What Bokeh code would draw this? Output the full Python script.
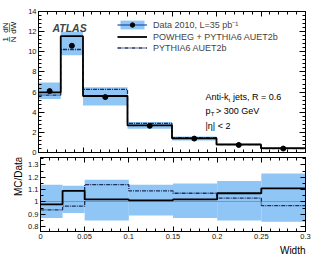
import numpy as np
from bokeh.plotting import figure
from bokeh.layouts import column, row
from bokeh.models import (Range1d, LinearAxis, SingleIntervalTicker, FixedTicker,
                          CustomJSTickFormatter, Label, Legend, LegendItem, Title)
from bokeh.embed import file_html
from bokeh.resources import INLINE

# ---- data ----
edges = [0.0, 0.025, 0.05, 0.1, 0.15, 0.2, 0.25, 0.3]
data = [6.1, 10.6, 5.5, 2.65, 1.38, 0.75, 0.39]
band_lo = [0.87, 0.91, 0.85, 0.89, 0.87, 0.85, 0.84]
band_hi = [1.14, 1.13, 1.18, 1.14, 1.15, 1.17, 1.23]
powheg_ratio = [0.98, 1.09, 1.02, 1.013, 1.02, 1.07, 1.11]
pythia_ratio = [0.935, 0.965, 1.14, 1.09, 1.07, 1.03, 0.97]
x_ticks = [0.0, 0.05, 0.1, 0.15, 0.2, 0.25, 0.3]

FONT = "Liberation Sans"
BAND = "#8fc6f6"
DATA_LINE = "#1f4fa8"
PY_COLOR = "#1e2f5e"
ONE_COLOR = "#5fa89a"

lo = np.array(edges[:-1])
hi = np.array(edges[1:])
centers = (lo + hi) / 2
d = np.array(data)
powheg = d * np.array(powheg_ratio)
pythia = d * np.array(pythia_ratio)


def ext(v):
    v = list(v)
    return v + [v[-1]]


fmt = CustomJSTickFormatter(code="return Number(tick.toFixed(3)).toString();")
blank = CustomJSTickFormatter(code="return '';")
x_minor = [round(v, 3) for v in np.arange(0, 0.3001, 0.01)]


def x_ticker():
    return FixedTicker(ticks=x_ticks, minor_ticks=x_minor)


def style_axis(ax, labels=True, major=5, minor=3):
    ax.major_tick_in = major
    ax.major_tick_out = 0
    ax.minor_tick_in = minor
    ax.minor_tick_out = 0
    ax.axis_line_color = "black"
    ax.major_tick_line_color = "black"
    ax.minor_tick_line_color = "black"
    ax.major_label_text_font = FONT
    ax.major_label_text_color = "#111111"
    if labels:
        ax.formatter = fmt
        ax.major_label_text_font_size = "7.5px"
        ax.major_label_standoff = 2
    else:
        ax.formatter = blank
        ax.major_label_text_font_size = "1px"
        ax.major_label_standoff = 0


def side_fig(w, h):
    f = figure(width=w, height=h, x_range=Range1d(0, w), y_range=Range1d(0, h),
               output_backend="svg", toolbar_location=None,
               min_border_left=0, min_border_right=0, min_border_top=0, min_border_bottom=0)
    f.axis.visible = False
    f.grid.visible = False
    f.outline_line_color = None
    return f


x_range = Range1d(0, 0.3)

# ---------------- top panel ----------------
p1 = figure(width=298, height=157, x_range=x_range, y_range=Range1d(0, 14),
            output_backend="svg", toolbar_location=None,
            min_border_left=21, min_border_right=10, min_border_top=11, min_border_bottom=5)
p1.grid.visible = False
p1.outline_line_color = "black"

yt1 = SingleIntervalTicker(interval=2, num_minor_ticks=5)
p1.xaxis.ticker = x_ticker()
p1.yaxis.ticker = yt1
style_axis(p1.xaxis[0], labels=False)
style_axis(p1.yaxis[0], labels=True, major=6)
ax_r1 = LinearAxis(ticker=yt1)
style_axis(ax_r1, labels=False, major=6)
p1.add_layout(ax_r1, "right")
ax_t1 = LinearAxis(ticker=x_ticker())
style_axis(ax_t1, labels=False)
p1.add_layout(ax_t1, "above")

band_r = p1.quad(left=lo, right=hi, bottom=d * np.array(band_lo), top=d * np.array(band_hi),
                 fill_color=BAND, line_color=None)
seg_r = p1.segment(x0=centers, x1=centers, y0=d, y1=d, line_color=DATA_LINE, line_width=1.2)
py_r = p1.step(x=edges, y=ext(pythia), mode="after", line_color=PY_COLOR,
               line_width=1.3, line_dash="4 1 1 1")
pow_r = p1.step(x=edges, y=ext(powheg), mode="after", line_color="black", line_width=1.8)
mk_r = p1.scatter(x=centers, y=d, size=5, fill_color="black", line_color="black")

legend = Legend(items=[
    LegendItem(label="Data 2010, L=35 pb\u207b\u00b9", renderers=[band_r, seg_r, mk_r]),
    LegendItem(label="POWHEG + PYTHIA6 AUET2b", renderers=[pow_r]),
    LegendItem(label="PYTHIA6 AUET2b", renderers=[py_r]),
], location=(79, 99))
legend.border_line_color = None
legend.background_fill_alpha = 0
legend.padding = 0
legend.margin = 0
legend.spacing = 0
legend.glyph_width = 30
legend.glyph_height = 11
legend.label_height = 11
legend.label_standoff = 6
legend.label_text_font = FONT
legend.label_text_font_size = "9px"
p1.add_layout(legend)

p1.add_layout(Label(x=0.0157, y=12.4, text="ATLAS", text_font=FONT, text_font_size="10.5px",
                    text_font_style="bold italic", text_baseline="middle"))

# kinematic texts
txt = dict(text_font=FONT, text_font_size="9px", text_baseline="middle", text_color="black")
sub = dict(text_font=FONT, text_font_size="6px", text_baseline="middle", text_color="black")
p1.add_layout(Label(x=0.1876, y=5.49, text="Anti-k", **txt))
p1.add_layout(Label(x=0.2135, y=5.25, text="t", **sub))
p1.add_layout(Label(x=0.2185, y=5.49, text="jets, R = 0.6", **txt))
p1.add_layout(Label(x=0.1876, y=4.1, text="p", **txt))
p1.add_layout(Label(x=0.1935, y=3.86, text="T", **sub))
p1.add_layout(Label(x=0.1995, y=4.1, text="> 300 GeV", **txt))
p1.add_layout(Label(x=0.1876, y=2.6, text="|\u03b7| < 2", **txt))

# y-axis title of the top panel: rotated fraction  (1/N)(dN/dW)
lbl1 = side_fig(17, 157)
rot = dict(text_font=FONT, text_font_size="8px", angle=np.pi / 2,
           text_align="center", text_baseline="middle", text_color="black")
lbl1.add_layout(Label(x=4.5, y=126, text="1", **rot))
lbl1.add_layout(Label(x=4.5, y=139, text="dN", **rot))
lbl1.add_layout(Label(x=13, y=126, text="N", **rot))
lbl1.add_layout(Label(x=13, y=139, text="dW", **rot))
bar = dict(rot, text_font_size="9px")
lbl1.add_layout(Label(x=8.8, y=126, text="\u2013", **bar))
lbl1.add_layout(Label(x=8.8, y=139, text="\u2014", **bar))

# ---------------- ratio panel ----------------
p2 = figure(width=290, height=102, x_range=x_range, y_range=Range1d(0.76, 1.36),
            output_backend="svg", toolbar_location=None,
            min_border_left=13, min_border_right=10, min_border_top=0, min_border_bottom=28)
p2.grid.visible = False
p2.outline_line_color = "black"

yt2 = SingleIntervalTicker(interval=0.1, num_minor_ticks=2)
p2.xaxis.ticker = x_ticker()
p2.yaxis.ticker = yt2
style_axis(p2.xaxis[0], labels=True)
style_axis(p2.yaxis[0], labels=True)
ax_r2 = LinearAxis(ticker=yt2)
style_axis(ax_r2, labels=False)
p2.add_layout(ax_r2, "right")
ax_t2 = LinearAxis(ticker=x_ticker())
style_axis(ax_t2, labels=False)
p2.add_layout(ax_t2, "above")

p2.quad(left=lo, right=hi, bottom=band_lo, top=band_hi, fill_color=BAND, line_color=None)
p2.hspan(y=[1.0], line_color=ONE_COLOR, line_width=1.2)
p2.step(x=edges, y=ext(pythia_ratio), mode="after", line_color=PY_COLOR,
        line_width=1.3, line_dash="4 1 1 1")
p2.step(x=edges, y=ext(powheg_ratio), mode="after", line_color="black", line_width=1.8)

p2.add_layout(Title(text="Width", align="right", offset=0, standoff=2, text_font=FONT,
                    text_font_size="10px", text_font_style="normal", text_color="black"),
              "below")

lbl2 = side_fig(25, 102)
lbl2.add_layout(Label(x=18, y=76, text="MC/Data", text_font=FONT, text_font_size="10px",
                      angle=np.pi / 2, text_align="center", text_baseline="middle",
                      text_color="black"))

layout = column(row(lbl1, p1), row(lbl2, p2))
open("out.html", "w").write(file_html(layout, INLINE))
